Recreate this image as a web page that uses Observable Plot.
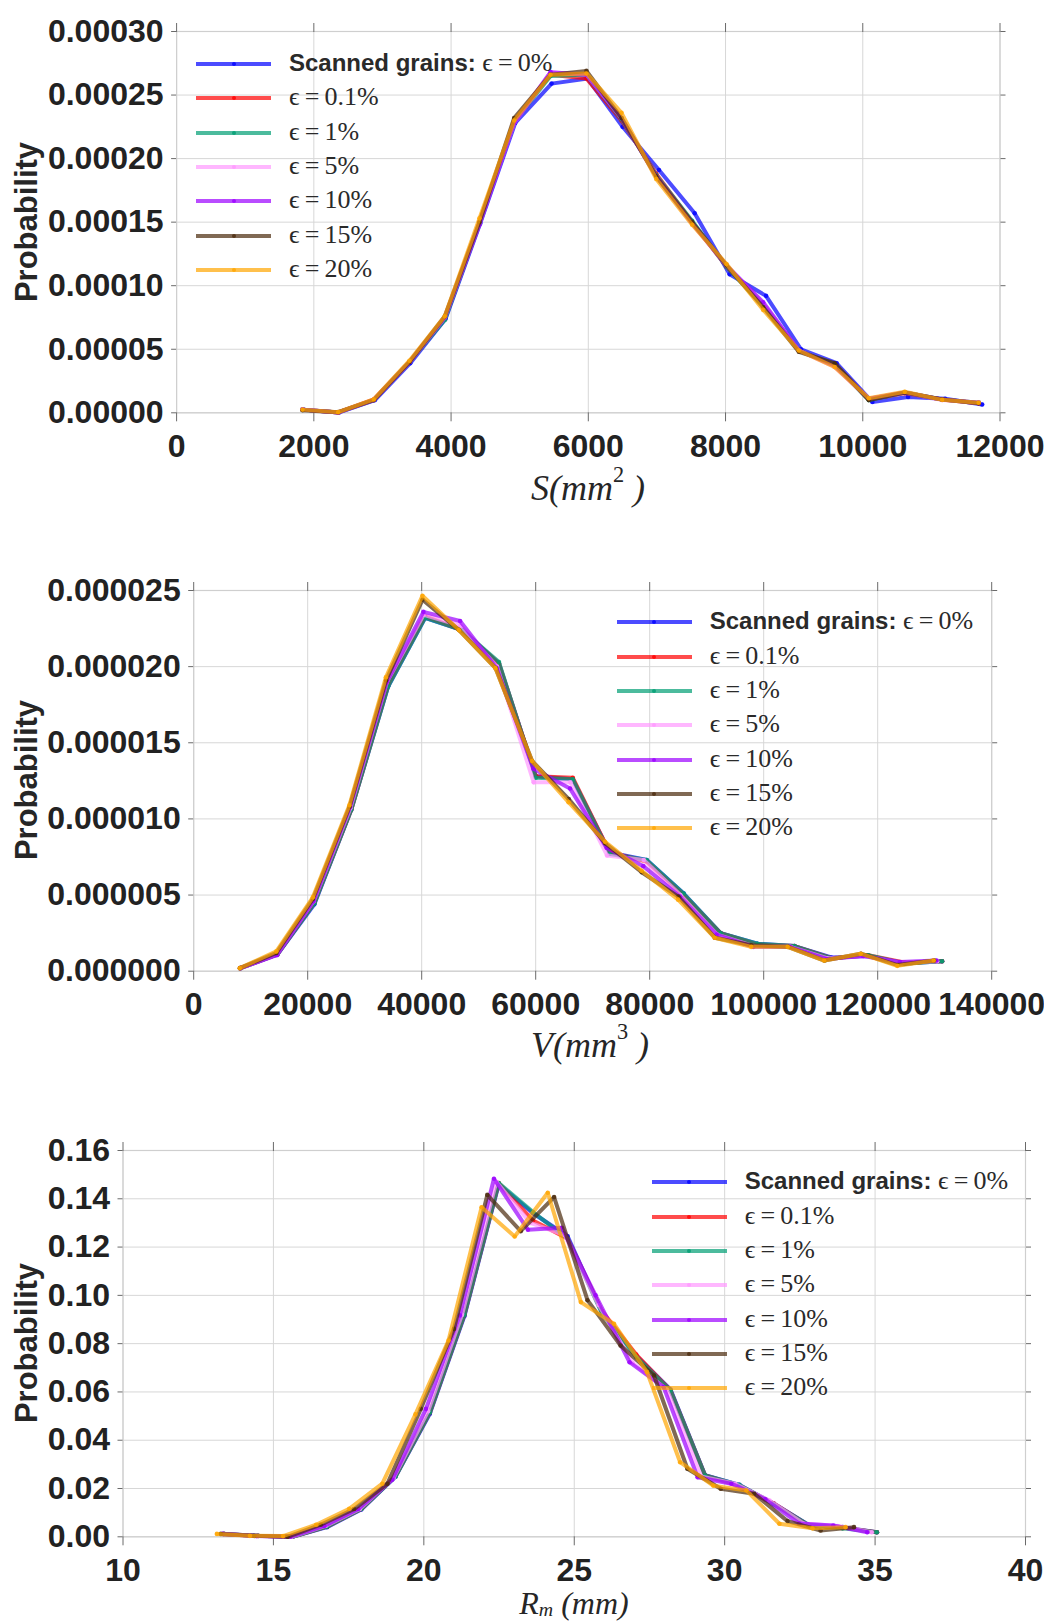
<!DOCTYPE html>
<html><head><meta charset="utf-8">
<script src="https://cdn.jsdelivr.net/npm/d3@7"></script>
<script src="https://cdn.jsdelivr.net/npm/@observablehq/plot@0.6"></script>
<style>
body{margin:0;background:#fff;}
#root{position:relative;width:1044px;height:1622px;overflow:hidden;background:#fff;}
.panel{position:absolute;left:0;}
.ylab{position:absolute;font:bold 31px "Liberation Sans",Arial,sans-serif;color:#262626;transform:translate(-50%,-50%) rotate(-90deg);white-space:nowrap;line-height:1;}
.xlab{position:absolute;font-family:"Liberation Serif","Times New Roman",serif;font-style:italic;font-size:36px;color:#262626;transform:translate(-50%,-50%);white-space:nowrap;line-height:0.9;}
.xlab sup{font-size:62%;font-style:normal;vertical-align:0.8em;line-height:0;}
.xlab sub{font-size:62%;vertical-align:-0.12em;line-height:0;}
.sw{position:absolute;height:4px;}
.swd{position:absolute;width:4px;height:4px;border-radius:50%;}
.lt{position:absolute;white-space:nowrap;transform:translateY(-52%);font:26px "Liberation Serif","DejaVu Serif",serif;color:#2a2a2a;line-height:1;}
.lt b{font:bold 24px "Liberation Sans",Arial,sans-serif;}
</style></head><body><div id="root"></div><script>
// ---------- series names / colours ----------
const names = ["Scanned grains: ϵ\u2009=\u20090%", "ϵ\u2009=\u20090.1%", "ϵ\u2009=\u20091%", "ϵ\u2009=\u20095%", "ϵ\u2009=\u200910%", "ϵ\u2009=\u200915%", "ϵ\u2009=\u200920%"];
const colors = ["#0000ff", "#ff0000", "#009e73", "#ff99ff", "#9b00ff", "#4a2a0c", "#ffa500"];

// ---------- Panel 1 : surface S (mm^2) ----------
const S_ticksX = [0, 2000, 4000, 6000, 8000, 10000, 12000];
const S_ticksY = [0, 0.00005, 0.0001, 0.00015, 0.0002, 0.00025, 0.0003];
const S_x_scan = [1850, 2370, 2890, 3405, 3920, 4425, 4935, 5465, 5990, 6500, 7030, 7550, 8060, 8590, 9100, 9620, 10140, 10660, 11200, 11740];
const S_x_eps  = [1835, 2355, 2874, 3394, 3909, 4414, 4920, 5450, 5973, 6484, 6990, 7514, 8014, 8548, 9068, 9590, 10088, 10612, 11157, 11690];
const S_scan  = [2.5e-6, 0.3e-6, 1.0e-5, 3.9e-5, 7.4e-5, 1.49e-4, 2.28e-4, 2.59e-4, 2.63e-4, 2.25e-4, 1.91e-4, 1.57e-4, 1.09e-4, 9.2e-5, 5.0e-5, 3.9e-5, 8.5e-6, 1.25e-5, 1.1e-5, 6.5e-6];
const S_eps01 = [2.5e-6, 0.3e-6, 1.05e-5, 4.0e-5, 7.5e-5, 1.50e-4, 2.30e-4, 2.66e-4, 2.63e-4, 2.30e-4, 1.88e-4, 1.50e-4, 1.15e-4, 8.5e-5, 4.9e-5, 3.8e-5, 1.05e-5, 1.55e-5, 1.05e-5, 7.5e-6];
const S_eps1  = [2.5e-6, 0.3e-6, 1.0e-5, 4.0e-5, 7.3e-5, 1.49e-4, 2.29e-4, 2.65e-4, 2.66e-4, 2.31e-4, 1.87e-4, 1.51e-4, 1.15e-4, 8.4e-5, 4.9e-5, 3.8e-5, 1.0e-5, 1.6e-5, 1.05e-5, 8e-6];
const S_eps5  = [2.5e-6, 0.3e-6, 1.0e-5, 4.0e-5, 7.5e-5, 1.49e-4, 2.28e-4, 2.68e-4, 2.66e-4, 2.32e-4, 1.86e-4, 1.49e-4, 1.16e-4, 8.6e-5, 4.9e-5, 3.6e-5, 1.1e-5, 1.6e-5, 1.0e-5, 8e-6];
const S_eps10 = [2.5e-6, 0.3e-6, 1.0e-5, 4.0e-5, 7.5e-5, 1.48e-4, 2.28e-4, 2.68e-4, 2.66e-4, 2.32e-4, 1.86e-4, 1.49e-4, 1.16e-4, 8.7e-5, 4.9e-5, 3.7e-5, 1.1e-5, 1.6e-5, 1.05e-5, 8e-6];
const S_eps15 = [2e-6, 0.5e-6, 1.0e-5, 4.0e-5, 7.6e-5, 1.50e-4, 2.32e-4, 2.66e-4, 2.69e-4, 2.32e-4, 1.86e-4, 1.50e-4, 1.16e-4, 8.3e-5, 4.8e-5, 3.9e-5, 1.0e-5, 1.6e-5, 1.05e-5, 7.5e-6];
const S_eps20 = [2.5e-6, 0.5e-6, 1.05e-5, 4.1e-5, 7.6e-5, 1.53e-4, 2.30e-4, 2.66e-4, 2.67e-4, 2.36e-4, 1.84e-4, 1.48e-4, 1.17e-4, 8.1e-5, 4.9e-5, 3.6e-5, 1.15e-5, 1.65e-5, 1.02e-5, 8e-6];

// ---------- Panel 2 : volume V (mm^3) ----------
const V_ticksX = [0, 20000, 40000, 60000, 80000, 100000, 120000, 140000];
const V_ticksY = [0, 0.000005, 0.00001, 0.000015, 0.00002, 0.000025];
const V_x_scan = [8200, 14680, 21160, 27640, 34110, 40600, 47070, 53550, 60030, 66510, 72990, 79470, 85950, 92430, 98910, 105390, 111860, 118340, 124820, 131300];
const V_x_eps5 = [8170, 14600, 21040, 27480, 33910, 40350, 46780, 53220, 59650, 66090, 72520, 78960, 85390, 91830, 98260, 104700, 111130, 117570, 124000, 130440];
const V_x_eps10 = [8150, 14580, 21010, 27440, 33870, 40300, 46730, 53160, 59590, 66020, 72450, 78880, 85310, 91740, 98170, 104600, 111030, 117460, 123890, 130320];
const V_x_eps15 = [8100, 14510, 20920, 27330, 33740, 40150, 46560, 52970, 59380, 65790, 72200, 78610, 85020, 91430, 97840, 104250, 110660, 117070, 123480, 129890];
const V_x_eps20 = [8088, 14496, 20904, 27312, 33720, 40128, 46536, 52944, 59352, 65760, 72168, 78576, 84984, 91392, 97800, 104208, 110616, 117024, 123432, 129840];
const V_scan  = [2e-7, 1.1e-6, 4.4e-6, 1.06e-5, 1.87e-5, 2.32e-5, 2.24e-5, 2.02e-5, 1.28e-5, 1.26e-5, 7.8e-6, 7.3e-6, 5.1e-6, 2.5e-6, 1.8e-6, 1.65e-6, 9e-7, 1.0e-6, 5e-7, 6.5e-7];
const V_eps01 = [2e-7, 1.1e-6, 4.5e-6, 1.06e-5, 1.88e-5, 2.33e-5, 2.24e-5, 2.02e-5, 1.28e-5, 1.27e-5, 7.8e-6, 7.2e-6, 5.0e-6, 2.5e-6, 1.75e-6, 1.65e-6, 8.5e-7, 1.05e-6, 5.5e-7, 6.5e-7];
const V_eps1  = [2e-7, 1.1e-6, 4.45e-6, 1.06e-5, 1.87e-5, 2.32e-5, 2.24e-5, 2.03e-5, 1.27e-5, 1.26e-5, 7.7e-6, 7.3e-6, 5.1e-6, 2.5e-6, 1.8e-6, 1.65e-6, 8.5e-7, 1.05e-6, 5e-7, 6.5e-7];
const V_eps5  = [2e-7, 1.1e-6, 4.6e-6, 1.07e-5, 1.90e-5, 2.34e-5, 2.27e-5, 2.00e-5, 1.24e-5, 1.24e-5, 7.6e-6, 7.3e-6, 5.0e-6, 2.4e-6, 1.65e-6, 1.6e-6, 8.5e-7, 1.0e-6, 5.5e-7, 6.5e-7];
const V_eps10 = [2e-7, 1.05e-6, 4.6e-6, 1.08e-5, 1.90e-5, 2.36e-5, 2.30e-5, 1.99e-5, 1.33e-5, 1.20e-5, 8.1e-6, 6.9e-6, 4.9e-6, 2.4e-6, 1.6e-6, 1.6e-6, 8e-7, 1.0e-6, 6e-7, 7e-7];
const V_eps15 = [2e-7, 1.2e-6, 4.75e-6, 1.08e-5, 1.91e-5, 2.44e-5, 2.24e-5, 1.99e-5, 1.38e-5, 1.13e-5, 8.4e-6, 6.5e-6, 4.9e-6, 2.2e-6, 1.7e-6, 1.6e-6, 7e-7, 1.15e-6, 4e-7, 7e-7];
const V_eps20 = [2e-7, 1.3e-6, 4.85e-6, 1.09e-5, 1.93e-5, 2.465e-5, 2.24e-5, 1.99e-5, 1.38e-5, 1.11e-5, 8.5e-6, 6.6e-6, 4.7e-6, 2.2e-6, 1.6e-6, 1.6e-6, 7e-7, 1.15e-6, 3.5e-7, 7e-7];

// ---------- Panel 3 : radius R_m (mm) ----------
const R_ticksX = [10, 15, 20, 25, 30, 35, 40];
const R_ticksY = [0, 0.02, 0.04, 0.06, 0.08, 0.10, 0.12, 0.14, 0.16];
const R_x_scan  = [13.35, 14.49, 15.63, 16.78, 17.92, 19.06, 20.2, 21.35, 22.49, 23.63, 24.78, 25.92, 27.06, 28.2, 29.35, 30.49, 31.63, 32.78, 33.92, 35.06];
const R_x_eps5  = [13.33, 14.47, 15.6, 16.74, 17.87, 19.0, 20.14, 21.27, 22.41, 23.54, 24.68, 25.81, 26.95, 28.08, 29.22, 30.35, 31.49, 32.62, 33.76, 34.89];
const R_x_eps10 = [13.31, 14.43, 15.56, 16.69, 17.82, 18.95, 20.07, 21.2, 22.33, 23.46, 24.59, 25.71, 26.84, 27.97, 29.1, 30.22, 31.35, 32.48, 33.61, 34.74];
const R_x_eps15 = [13.25, 14.36, 15.47, 16.57, 17.68, 18.79, 19.9, 21.0, 22.11, 23.22, 24.33, 25.44, 26.54, 27.65, 28.76, 29.87, 30.98, 32.09, 33.19, 34.3];
const R_x_eps20 = [13.12, 14.22, 15.32, 16.42, 17.52, 18.62, 19.72, 20.82, 21.92, 23.02, 24.12, 25.22, 26.32, 27.42, 28.52, 29.62, 30.72, 31.82, 32.92, 34.02];
const R_scan  = [0.0012, 0.0004, 0.0, 0.004, 0.0113, 0.025, 0.051, 0.0915, 0.146, 0.134, 0.1245, 0.093, 0.075, 0.061, 0.0255, 0.0215, 0.0138, 0.005, 0.004, 0.0019];
const R_eps01 = [0.0012, 0.0004, 0.0, 0.0042, 0.0115, 0.0252, 0.0515, 0.092, 0.1465, 0.131, 0.1235, 0.0935, 0.0755, 0.0606, 0.0254, 0.0212, 0.0138, 0.0048, 0.0038, 0.0019];
const R_eps1  = [0.0012, 0.0004, 0.0, 0.0042, 0.0115, 0.025, 0.0515, 0.092, 0.1465, 0.1345, 0.1235, 0.0925, 0.0745, 0.0606, 0.0254, 0.0215, 0.0135, 0.005, 0.0035, 0.0019];
const R_eps5  = [0.0012, 0.0003, 0.0, 0.0045, 0.0115, 0.0245, 0.052, 0.092, 0.147, 0.130, 0.125, 0.096, 0.072, 0.061, 0.025, 0.022, 0.015, 0.0055, 0.0045, 0.0019];
const R_eps10 = [0.0012, 0.0003, 0.0, 0.0045, 0.0115, 0.0236, 0.053, 0.0917, 0.1483, 0.1272, 0.128, 0.100, 0.0723, 0.062, 0.0247, 0.022, 0.0155, 0.0055, 0.0047, 0.0019];
const R_eps15 = [0.0012, 0.0004, 0.0, 0.005, 0.0115, 0.022, 0.053, 0.0861, 0.1416, 0.1266, 0.1407, 0.098, 0.0792, 0.0668, 0.0282, 0.0199, 0.0178, 0.0065, 0.0026, 0.004];
const R_eps20 = [0.0012, 0.0004, 0.0003, 0.005, 0.0116, 0.022, 0.0507, 0.0813, 0.1365, 0.1244, 0.1425, 0.0972, 0.0882, 0.0682, 0.0309, 0.0212, 0.0192, 0.0054, 0.0035, 0.004];

// ---------- layout ----------
const root = document.getElementById("root");
const FONT = '"Liberation Sans", Arial, sans-serif';

function makePanel(p) {
  const marks = [
    Plot.gridX(p.ticksX, {stroke: "#d7d7d7", strokeOpacity: 1, strokeWidth: 1}),
    Plot.gridY(p.ticksY, {stroke: "#d7d7d7", strokeOpacity: 1, strokeWidth: 1}),
    Plot.frame({stroke: "#cfcfcf", strokeWidth: 1.2}),
    Plot.axisX(p.ticksX, {anchor: "bottom", tickSize: 9, tickPadding: 12, tickFormat: d => String(d), label: null, stroke: "#6a6a6a"}),
    Plot.axisX(p.ticksX, {anchor: "top", tickSize: 9, tickFormat: () => "", label: null, stroke: "#6a6a6a"}),
    Plot.axisY(p.ticksY, {anchor: "left", tickSize: 5, tickPadding: 8, tickFormat: p.fmtY, label: null, stroke: "#6a6a6a"}),
    Plot.axisY(p.ticksY, {anchor: "right", tickSize: 5, tickFormat: () => "", label: null, stroke: "#6a6a6a"})
  ];
  p.series.forEach((s, i) => {
    const rows = s.y.map((v, j) => ({x: s.x[j], y: v}));
    marks.push(Plot.line(rows, {x: "x", y: "y", stroke: colors[i], strokeWidth: 4, strokeOpacity: 0.7, strokeLinejoin: "round"}));
    marks.push(Plot.dot(rows, {x: "x", y: "y", fill: colors[i], r: 2.3, fillOpacity: 0.8}));
  });
  const svg = Plot.plot({
    width: 1044, height: 460,
    marginLeft: p.ml, marginRight: p.mr, marginTop: p.mt, marginBottom: p.mb,
    style: {fontFamily: FONT, fontSize: "32px", fontWeight: "bold", color: "#222222", background: "transparent", overflow: "visible"},
    x: {domain: p.domX},
    y: {domain: p.domY},
    marks
  });
  const wrap = document.createElement("div");
  wrap.className = "panel";
  wrap.style.top = p.top + "px";
  wrap.appendChild(svg);
  root.appendChild(wrap);

  // y label
  const yl = document.createElement("div");
  yl.className = "ylab";
  yl.textContent = "Probability";
  yl.style.left = "26px";
  yl.style.top = (p.top + p.mt + (460 - p.mt - p.mb) / 2) + "px";
  root.appendChild(yl);

  // x label
  const xl = document.createElement("div");
  xl.className = "xlab";
  xl.innerHTML = p.xlabel;
  xl.style.left = p.xlabX + "px";
  xl.style.top = p.xlabY + "px";
  xl.style.fontSize = p.xlabSize + "px";
  root.appendChild(xl);

  // legend
  names.forEach((n, i) => {
    const cy = p.legY + i * 34.3;
    const sw = document.createElement("div");
    sw.className = "sw";
    sw.style.left = p.legX + "px";
    sw.style.width = "75px";
    sw.style.top = (cy - 2) + "px";
    sw.style.background = colors[i];
    sw.style.opacity = 0.7;
    root.appendChild(sw);
    const dd = document.createElement("div");
    dd.className = "swd";
    dd.style.left = (p.legX + 35.5) + "px";
    dd.style.top = (cy - 2) + "px";
    dd.style.background = colors[i];
    dd.style.opacity = 0.8;
    root.appendChild(dd);
    const t = document.createElement("div");
    t.className = "lt";
    t.style.left = (p.legX + 93) + "px";
    t.style.top = cy + "px";
    if (i === 0) t.innerHTML = "<b>Scanned grains:</b> ϵ\u2009=\u20090%";
    else t.textContent = n;
    root.appendChild(t);
  });
}

makePanel({
  top: 0, mt: 31, mb: 47.7, ml: 176.1, mr: 44.5,
  domX: [0, 12000], domY: [0, 0.0003], ticksX: S_ticksX, ticksY: S_ticksY, fmtY: d => d.toFixed(5),
  series: [
    {x: S_x_scan, y: S_scan}, {x: S_x_eps, y: S_eps01}, {x: S_x_eps, y: S_eps1}, {x: S_x_eps, y: S_eps5},
    {x: S_x_eps, y: S_eps10}, {x: S_x_eps, y: S_eps15}, {x: S_x_eps, y: S_eps20}
  ],
  xlabel: "S(mm<sup>2</sup>&nbsp;)", xlabX: 588, xlabY: 488, xlabSize: 36,
  legX: 196, legY: 64
});

makePanel({
  top: 560, mt: 30, mb: 49.3, ml: 193.2, mr: 52.8,
  domX: [0, 140000], domY: [0, 0.000025], ticksX: V_ticksX, ticksY: V_ticksY, fmtY: d => d.toFixed(6),
  series: [
    {x: V_x_scan, y: V_scan}, {x: V_x_scan, y: V_eps01}, {x: V_x_scan, y: V_eps1}, {x: V_x_eps5, y: V_eps5},
    {x: V_x_eps10, y: V_eps10}, {x: V_x_eps15, y: V_eps15}, {x: V_x_eps20, y: V_eps20}
  ],
  xlabel: "V(mm<sup>3</sup>&nbsp;)", xlabX: 590, xlabY: 1045, xlabSize: 36,
  legX: 616.7, legY: 622.3
});

makePanel({
  top: 1120, mt: 30, mb: 43.7, ml: 122.5, mr: 19,
  domX: [10, 40], domY: [0, 0.16], ticksX: R_ticksX, ticksY: R_ticksY, fmtY: d => d.toFixed(2),
  series: [
    {x: R_x_scan, y: R_scan}, {x: R_x_scan, y: R_eps01}, {x: R_x_scan, y: R_eps1}, {x: R_x_eps5, y: R_eps5},
    {x: R_x_eps10, y: R_eps10}, {x: R_x_eps15, y: R_eps15}, {x: R_x_eps20, y: R_eps20}
  ],
  xlabel: "R<sub>m</sub>&nbsp;(mm)", xlabX: 574, xlabY: 1603, xlabSize: 32,
  legX: 651.7, legY: 1182.3
});
</script></body></html>
